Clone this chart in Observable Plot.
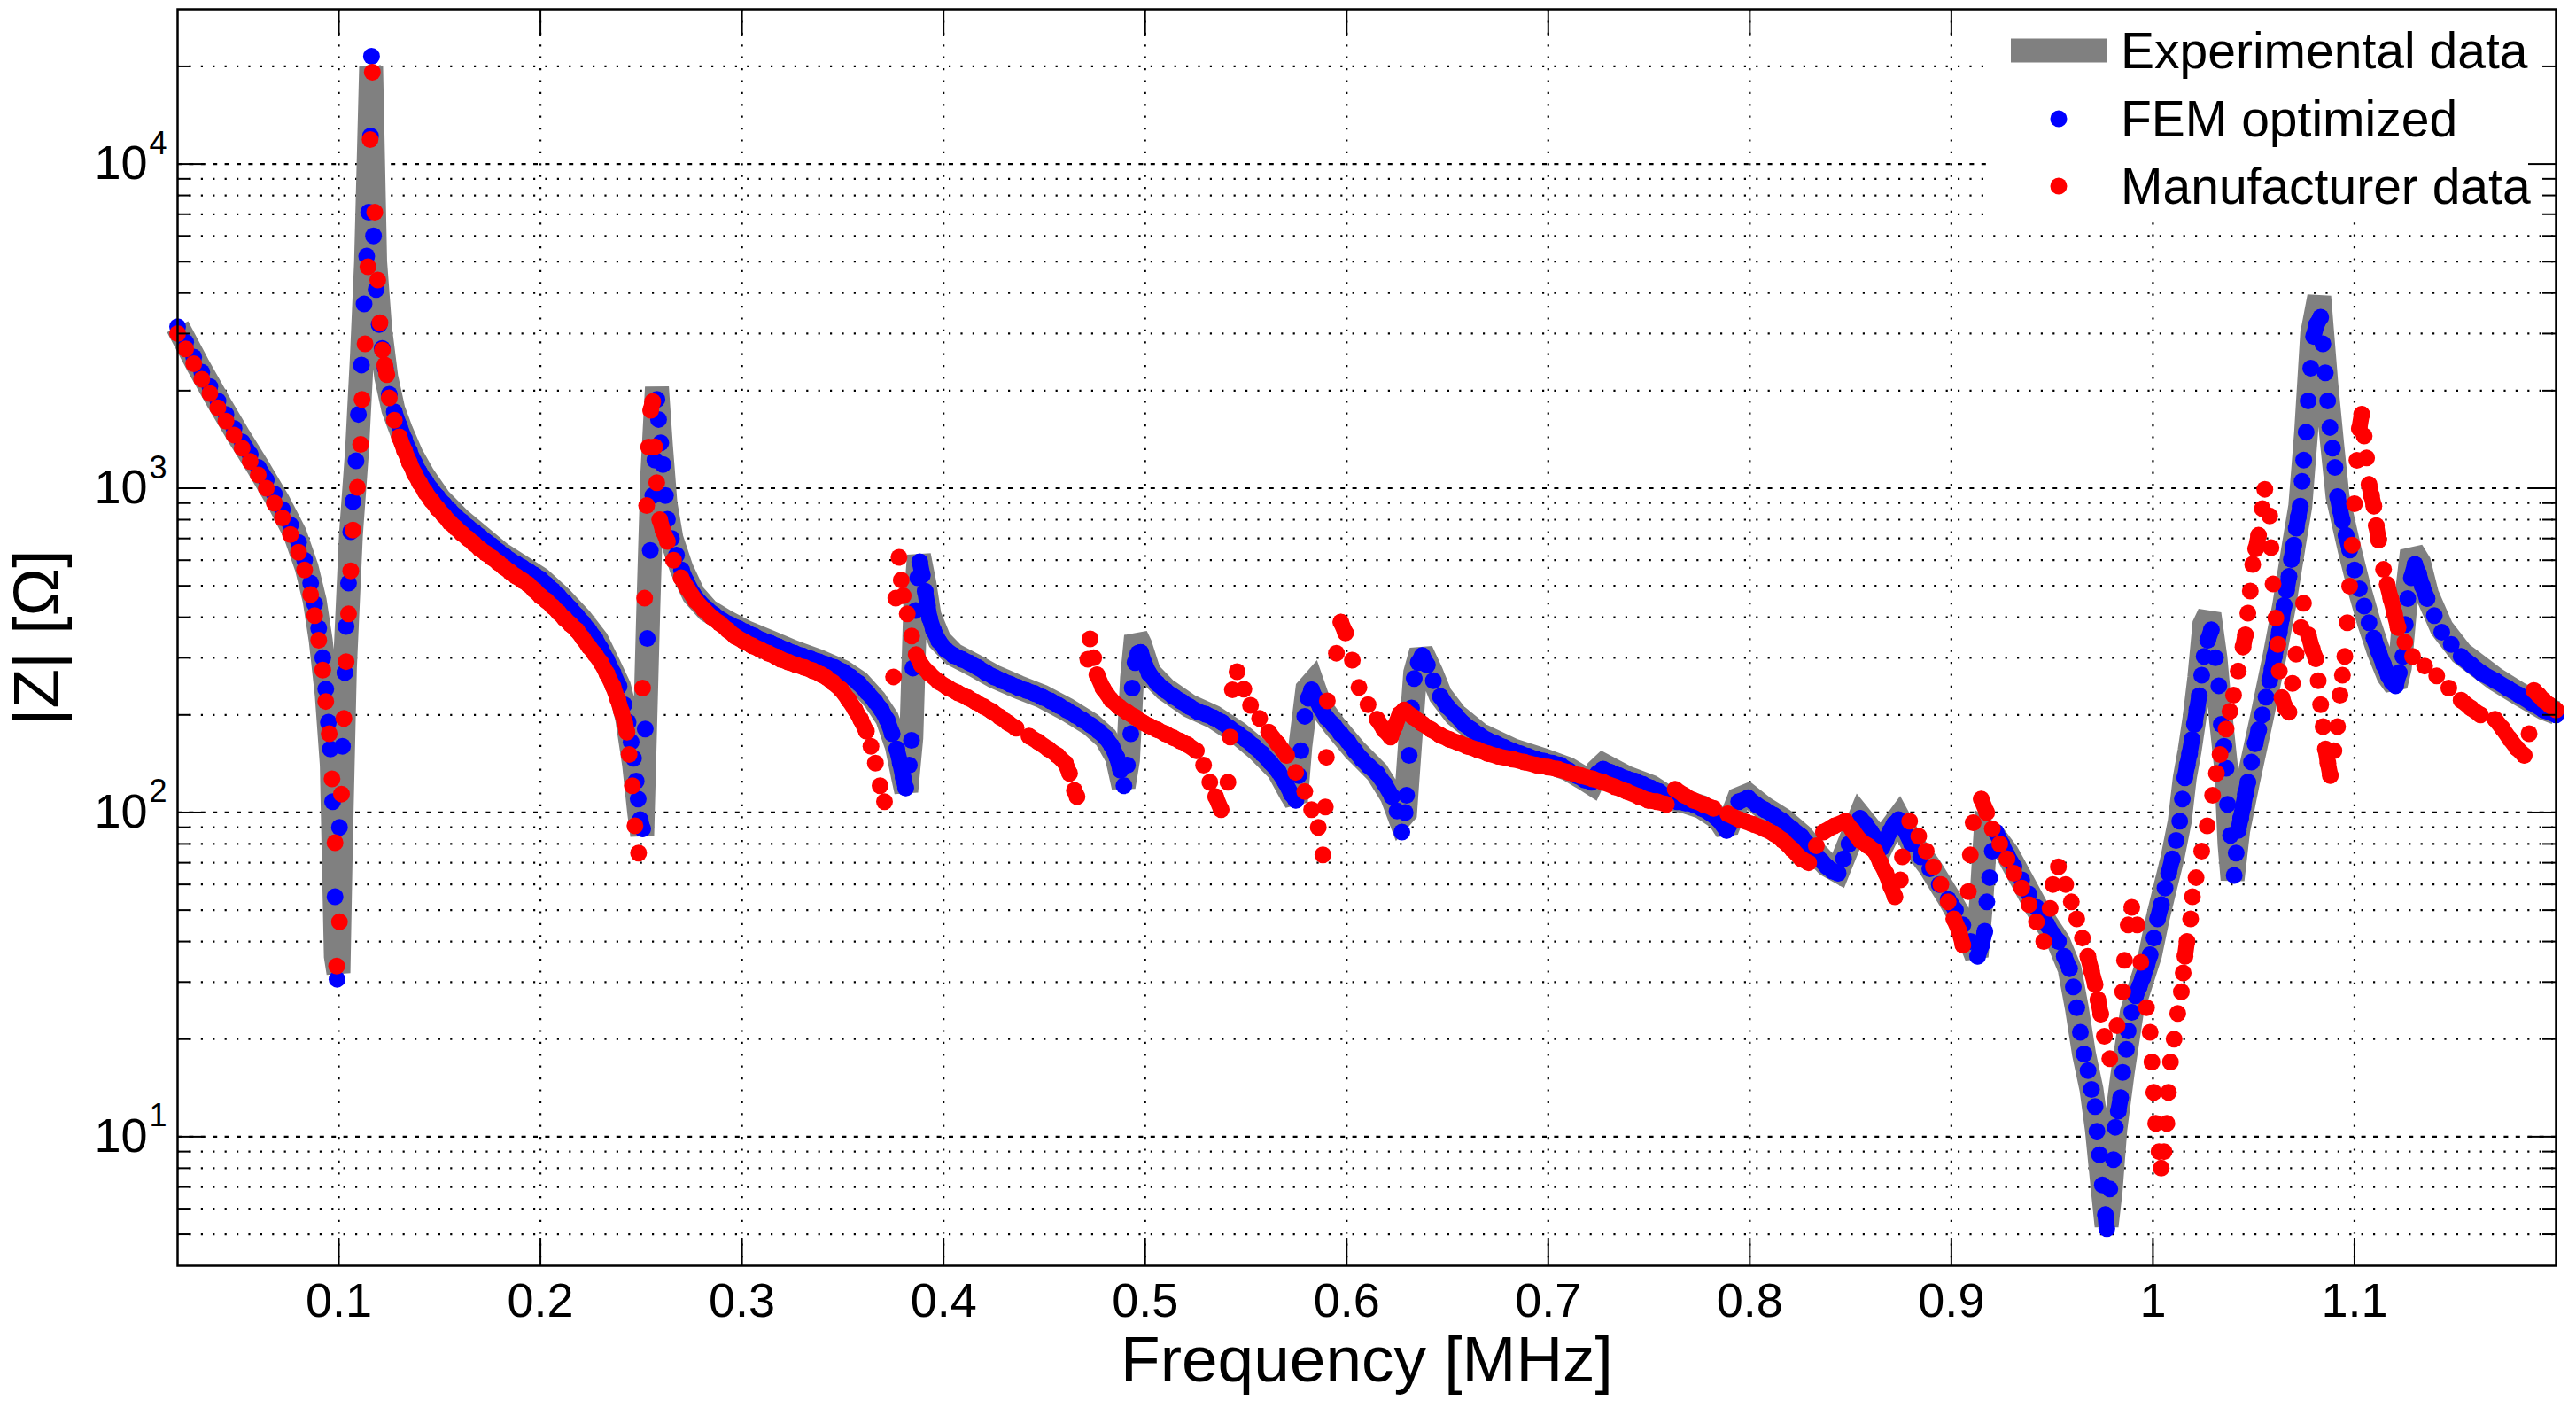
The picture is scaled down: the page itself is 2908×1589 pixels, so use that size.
<!DOCTYPE html>
<html>
<head>
<meta charset="utf-8">
<script src="https://cdn.jsdelivr.net/npm/d3@7"></script>
<script src="https://cdn.jsdelivr.net/npm/@observablehq/plot@0.6"></script>
<style>
  html, body { margin: 0; padding: 0; background: #ffffff; overflow: hidden; }
  #chart svg { display: block; }
</style>
</head>
<body>
<div id="chart"></div>
<script>
// ---------------- DATA ----------------
const seriesNames = ["Experimental data", "FEM optimized", "Manufacturer data"];
const seriesColors = ["#808080", "#0000ff", "#ff0000"];

const xTicks = [0.1, 0.2, 0.3, 0.4, 0.5, 0.6, 0.7, 0.8, 0.9, 1.0, 1.1];
const xTickLabels = ["0.1", "0.2", "0.3", "0.4", "0.5", "0.6", "0.7", "0.8", "0.9", "1", "1.1"];
const yDecades = [10, 100, 1000, 10000];
const yDecadeExp = ["1", "2", "3", "4"];
const yMinor = [5, 6, 7, 8, 9, 20, 30, 40, 50, 60, 70, 80, 90, 200, 300, 400, 500, 600, 700, 800, 900,
  2000, 3000, 4000, 5000, 6000, 7000, 8000, 9000, 20000];

// Experimental data: [frequency MHz, |Z| ohm]
const experimental = [[0.020,3150],[0.030,2400],[0.040,1860],[0.050,1460],[0.060,1160],[0.070,910],[0.078,730],[0.084,570],[0.088,450],[0.091,340],[0.094,230],[0.0965,140],[0.0985,36],[0.0998,32],[0.1010,80],[0.1030,280],[0.1060,720],[0.1090,1300],[0.1115,2600],[0.1135,5000],[0.1160,20000],[0.1180,5000],[0.1205,3100],[0.1235,2200],[0.1270,1750],[0.1310,1500],[0.136,1270],[0.142,1090],[0.150,925],[0.160,800],[0.170,710],[0.180,630],[0.190,575],[0.200,525],[0.210,460],[0.220,395],[0.228,340],[0.234,285],[0.239,245],[0.243,195],[0.2465,140],[0.249,100],[0.2505,85],[0.2535,420],[0.2555,1100],[0.2578,2050],[0.2598,1350],[0.262,900],[0.265,700],[0.270,565],[0.276,470],[0.283,420],[0.292,388],[0.302,360],[0.314,335],[0.326,312],[0.338,293],[0.350,272],[0.358,252],[0.366,222],[0.372,195],[0.3768,160],[0.3800,128],[0.3815,116],[0.3840,170],[0.3860,440],[0.3878,620],[0.3905,510],[0.393,405],[0.398,340],[0.405,307],[0.415,285],[0.425,263],[0.437,244],[0.449,228],[0.461,208],[0.473,187],[0.4805,170],[0.486,148],[0.4893,120],[0.4915,145],[0.4935,260],[0.4955,350],[0.4975,330],[0.502,270],[0.510,240],[0.522,213],[0.534,197],[0.546,176],[0.556,156],[0.566,135],[0.5725,114],[0.5748,108],[0.5770,160],[0.5805,240],[0.5830,250],[0.5870,212],[0.594,185],[0.604,156],[0.6151,133],[0.6225,112],[0.6265,96],[0.6290,100],[0.6315,165],[0.6340,270],[0.6370,315],[0.6420,270],[0.6465,230],[0.654,200],[0.666,174],[0.682,156],[0.698,145],[0.710,136],[0.718,127],[0.7215,123],[0.7245,135],[0.7272,140],[0.739,128],[0.751,120],[0.7595,111],[0.768,108],[0.776,104],[0.7845,96],[0.7885,88],[0.7945,110],[0.7991,113],[0.8073,103],[0.8164,95],[0.8255,85],[0.8328,75],[0.8383,69],[0.8438,66],[0.8492,80],[0.8547,97],[0.8602,88],[0.8656,79],[0.8693,88],[0.8738,96],[0.8802,81],[0.8893,68],[0.8984,55],[0.9057,46],[0.9125,36],[0.9150,55],[0.9170,88],[0.9210,85],[0.9276,75],[0.9349,62],[0.9422,51],[0.9476,45],[0.9531,40],[0.9586,33],[0.9622,25],[0.9658,18],[0.9695,14],[0.9722,10.5],[0.9749,7.1],[0.9770,5.3],[0.9790,6.8],[0.9813,10.5],[0.985,15.8],[0.9895,24.2],[0.995,31],[0.9986,36.4],[1.0023,47],[1.006,58.5],[1.0096,72],[1.0133,94],[1.0158,128],[1.0182,155],[1.0206,195],[1.0230,260],[1.0255,380],[1.0280,410],[1.0310,300],[1.0339,190],[1.0363,137],[1.0380,80],[1.0395,62],[1.0423,88],[1.0471,124],[1.0543,200],[1.0603,303],[1.0651,435],[1.0699,668],[1.0731,880],[1.0760,1490],[1.0790,3000],[1.0825,3900],[1.0860,2100],[1.0891,1330],[1.0916,942],[1.0976,645],[1.1024,490],[1.1072,385],[1.112,313],[1.1168,264],[1.1204,246],[1.1225,280],[1.1250,420],[1.1285,640],[1.1320,590],[1.1360,470],[1.1433,370],[1.1529,310],[1.1698,258],[1.1818,232],[1.1938,210],[1.2,203]];

// FEM optimized: [frequency MHz, |Z| ohm]
const femOptimized = [[0.020,3150],[0.024,2820],[0.028,2540],[0.032,2280],[0.036,2060],[0.040,1860],[0.044,1690],[0.048,1530],[0.052,1390],[0.056,1270],[0.060,1160],[0.064,1060],[0.068,960],[0.072,860],[0.076,770],[0.080,680],[0.083,600],[0.086,510],[0.088,440],[0.090,370],[0.092,300],[0.0935,240],[0.0948,190],[0.0958,157],[0.0969,108],[0.0981,55],[0.0991,30.6],[0.1003,90],[0.1018,160],[0.103,270],[0.1036,375],[0.1048,510],[0.1059,735],[0.107,910],[0.1085,1216],[0.1097,1690],[0.1112,2400],[0.1125,3700],[0.1138,5200],[0.1148,7100],[0.1157,12200],[0.1162,21500],[0.1172,6000],[0.1185,4100],[0.1200,3200],[0.1215,2700],[0.123,2350],[0.125,1950],[0.1275,1720],[0.130,1560],[0.1325,1420],[0.135,1300],[0.1375,1200],[0.140,1120],[0.143,1050],[0.146,990],[0.149,940],[0.152,895],[0.155,855],[0.158,820],[0.161,790],[0.164,760],[0.167,735],[0.170,710],[0.173,685],[0.176,665],[0.179,640],[0.182,620],[0.185,600],[0.188,585],[0.191,570],[0.194,555],[0.197,540],[0.200,525],[0.203,505],[0.206,485],[0.209,465],[0.212,445],[0.215,425],[0.218,405],[0.221,385],[0.224,365],[0.227,345],[0.230,320],[0.233,295],[0.236,270],[0.239,245],[0.2415,215],[0.2435,190],[0.2450,165],[0.2462,147],[0.2475,125],[0.2485,110],[0.2495,95],[0.2507,89],[0.2520,181],[0.2530,344],[0.2545,643],[0.2558,950],[0.2568,1222],[0.2578,1880],[0.2586,1630],[0.2597,1380],[0.2608,1183],[0.2620,950],[0.263,803],[0.265,700],[0.2675,622],[0.270,560],[0.2725,515],[0.2755,475],[0.279,445],[0.2825,425],[0.286,408],[0.290,392],[0.294,380],[0.298,370],[0.302,360],[0.306,350],[0.310,340],[0.314,333],[0.318,325],[0.322,317],[0.326,310],[0.330,304],[0.334,298],[0.338,292],[0.342,286],[0.346,280],[0.350,272],[0.354,262],[0.358,250],[0.362,235],[0.366,220],[0.369,208],[0.372,193],[0.3745,175],[0.3768,157],[0.3785,142],[0.3800,128],[0.3812,119],[0.3830,140],[0.3841,167],[0.3848,279],[0.3862,420],[0.3872,530],[0.3882,593],[0.3895,540],[0.3909,481],[0.3920,435],[0.3931,397],[0.3950,365],[0.3976,338],[0.401,318],[0.405,305],[0.409,297],[0.413,289],[0.417,280],[0.421,270],[0.425,262],[0.429,255],[0.433,249],[0.437,243],[0.441,238],[0.445,233],[0.449,227],[0.453,221],[0.457,214],[0.461,207],[0.465,200],[0.469,193],[0.473,186],[0.477,178],[0.4805,170],[0.4835,160],[0.4860,148],[0.4878,135],[0.4895,121],[0.4912,140],[0.4929,175],[0.4936,242],[0.4950,290],[0.4965,310],[0.4978,312],[0.4997,288],[0.502,268],[0.506,250],[0.510,238],[0.514,228],[0.518,220],[0.522,212],[0.526,205],[0.530,201],[0.534,196],[0.538,190],[0.542,182],[0.546,175],[0.550,168],[0.554,160],[0.558,152],[0.562,143],[0.566,134],[0.5695,124],[0.5725,114],[0.5748,109],[0.5762,130],[0.5773,155],[0.5792,198],[0.5810,225],[0.5826,239],[0.5845,225],[0.5870,210],[0.590,196],[0.5935,186],[0.597,175],[0.6005,166],[0.604,155],[0.6075,146],[0.611,139],[0.6151,132],[0.619,122],[0.6225,112],[0.6250,101],[0.6274,87],[0.6290,100],[0.6297,113],[0.6310,150],[0.6322,210],[0.6335,259],[0.6355,290],[0.6375,305],[0.640,285],[0.643,255],[0.6465,228],[0.650,212],[0.654,200],[0.658,188],[0.662,180],[0.666,173],[0.670,167],[0.674,163],[0.678,159],[0.682,155],[0.686,152],[0.690,149],[0.694,146],[0.698,144],[0.702,142],[0.706,140],[0.710,135],[0.714,130],[0.718,126],[0.7215,124],[0.7245,132],[0.7272,136],[0.731,133],[0.735,130],[0.739,127],[0.743,125],[0.747,122],[0.751,119],[0.755,116],[0.7595,111],[0.764,108],[0.768,107],[0.772,106],[0.776,103],[0.780,100],[0.7845,95],[0.7885,88],[0.7915,95],[0.7945,108],[0.7991,111],[0.803,106],[0.8073,102],[0.812,98],[0.8164,94],[0.821,89],[0.8255,84.5],[0.8295,79],[0.8328,74],[0.8355,71],[0.8383,68],[0.841,66],[0.8438,65],[0.8465,72],[0.8492,80],[0.852,89],[0.8547,96],[0.8575,92],[0.8602,87],[0.863,82],[0.8656,78],[0.8675,82],[0.8693,87],[0.8715,92],[0.8738,95],[0.877,88],[0.8802,80],[0.8848,73],[0.8893,67],[0.894,60],[0.8984,54],[0.902,50],[0.9057,45],[0.9095,40],[0.913,36],[0.915,39],[0.9166,43],[0.9176,53],[0.9190,63],[0.9203,76],[0.9221,87],[0.925,80],[0.9276,74],[0.931,68],[0.9349,62],[0.9385,56],[0.9422,51],[0.9450,48],[0.9476,45],[0.9505,42],[0.9531,40],[0.9560,36],[0.9586,33],[0.9605,29],[0.9622,25],[0.9640,21],[0.9658,18],[0.9678,16],[0.9695,14],[0.9713,12.4],[0.9722,10.4],[0.9735,8.8],[0.9749,7.1],[0.9764,5.75],[0.9771,5.2],[0.9786,6.9],[0.9804,8.5],[0.9813,10.7],[0.9828,12],[0.984,13.2],[0.985,15.8],[0.9868,18.6],[0.9877,21.2],[0.9895,24.2],[0.9914,27.2],[0.9932,29],[0.995,31],[0.9968,33.5],[0.9986,36.4],[1.0005,41],[1.0023,47],[1.0042,52],[1.006,58.5],[1.0078,65],[1.0096,72],[1.0115,82],[1.0133,94],[1.0146,110],[1.0158,128],[1.0170,140],[1.0182,152],[1.0194,168],[1.0206,187],[1.0218,207],[1.023,229],[1.0242,265],[1.0254,303],[1.0272,340],[1.029,366],[1.0310,300],[1.0327,246],[1.0339,187],[1.0352,160],[1.0363,137],[1.0370,106],[1.0385,85],[1.0403,64],[1.0413,75],[1.0423,88],[1.0435,96],[1.0447,104],[1.0459,114],[1.0471,124],[1.0489,143],[1.0507,163],[1.0525,180],[1.0543,200],[1.0561,227],[1.0579,255],[1.0591,278],[1.0603,303],[1.0615,330],[1.0627,360],[1.0639,397],[1.0651,435],[1.0663,485],[1.0675,535],[1.0687,603],[1.0699,668],[1.0711,753],[1.0721,815],[1.0731,880],[1.0740,1050],[1.0748,1222],[1.0760,1490],[1.0770,1860],[1.0783,2345],[1.0797,2940],[1.0812,3200],[1.0832,3370],[1.0843,2790],[1.0855,2270],[1.0867,1860],[1.0878,1540],[1.0891,1330],[1.0903,1160],[1.0916,942],[1.0928,860],[1.094,794],[1.0958,715],[1.0976,645],[1.1,560],[1.1024,490],[1.1048,433],[1.1072,385],[1.1096,345],[1.112,313],[1.1144,286],[1.1168,264],[1.1186,252],[1.1204,246],[1.1222,270],[1.124,303],[1.1252,380],[1.1264,457],[1.1282,530],[1.13,582],[1.1318,545],[1.1336,500],[1.136,457],[1.1396,405],[1.1433,360],[1.148,330],[1.1529,303],[1.158,285],[1.1635,268],[1.1698,255],[1.1758,242],[1.1818,230],[1.1878,218],[1.1938,207],[1.2,200]];

// Manufacturer data: [frequency MHz, |Z| ohm]
const manufacturer = [[0.020,3000],[0.024,2690],[0.028,2420],[0.032,2170],[0.036,1960],[0.040,1770],[0.044,1610],[0.048,1460],[0.052,1330],[0.056,1210],[0.060,1100],[0.064,1000],[0.068,900],[0.072,810],[0.076,720],[0.080,635],[0.083,560],[0.086,470],[0.088,405],[0.090,340],[0.092,275],[0.0935,220],[0.0952,175],[0.0966,127],[0.0981,80.7],[0.0989,33.6],[0.1003,46],[0.1013,114],[0.1025,195],[0.1036,292],[0.1048,410],[0.1059,556],[0.107,743],[0.1092,1007],[0.1108,1365],[0.1115,1880],[0.113,2790],[0.1144,4820],[0.1155,11900],[0.1166,19200],[0.1178,7100],[0.1193,4390],[0.1204,3240],[0.1216,2670],[0.1228,2400],[0.1238,2240],[0.125,1900],[0.1275,1620],[0.130,1440],[0.1325,1310],[0.135,1200],[0.1375,1110],[0.140,1040],[0.143,970],[0.146,915],[0.149,865],[0.152,825],[0.155,785],[0.158,755],[0.161,725],[0.164,700],[0.167,675],[0.170,650],[0.173,630],[0.176,610],[0.179,590],[0.182,570],[0.185,552],[0.188,535],[0.191,520],[0.194,505],[0.197,485],[0.200,465],[0.203,450],[0.206,432],[0.209,414],[0.212,396],[0.215,380],[0.218,365],[0.221,345],[0.224,325],[0.227,308],[0.230,290],[0.233,268],[0.236,245],[0.2384,223],[0.2402,205],[0.2418,190],[0.2429,177],[0.2440,151],[0.2456,121],[0.2469,91],[0.2487,75],[0.2507,242],[0.2517,458],[0.2527,885],[0.2537,1340],[0.2547,1740],[0.2557,1850],[0.2567,1343],[0.2577,1040],[0.2592,800],[0.2608,740],[0.263,686],[0.266,600],[0.2698,530],[0.273,490],[0.277,450],[0.281,423],[0.285,400],[0.289,383],[0.293,365],[0.2967,349],[0.301,337],[0.305,327],[0.309,318],[0.313,310],[0.317,302],[0.3191,297],[0.323,291],[0.327,285],[0.331,280],[0.335,274],[0.339,267],[0.3415,262],[0.345,252],[0.349,240],[0.3528,223],[0.356,208],[0.359,193],[0.3617,178],[0.364,160],[0.3662,142],[0.3685,121],[0.3707,108],[0.3752,262],[0.3763,458],[0.3779,612],[0.3790,521],[0.3800,466],[0.382,410],[0.3842,350],[0.3864,307],[0.389,285],[0.393,268],[0.3976,253],[0.402,243],[0.407,234],[0.412,226],[0.416,219],[0.42,212],[0.424,205],[0.428,197],[0.432,189],[0.436,182],[0.4424,172],[0.447,165],[0.452,157],[0.4565,150],[0.4604,142],[0.4625,132],[0.4649,117],[0.4662,112],[0.4716,297],[0.4727,343],[0.4745,300],[0.4761,266],[0.479,242],[0.483,223],[0.487,212],[0.491,204],[0.495,197],[0.4985,190],[0.502,185],[0.506,180],[0.510,175],[0.514,170],[0.5175,166],[0.5209,162],[0.5254,155],[0.5290,140],[0.5321,124],[0.5350,112],[0.5377,102],[0.5411,124],[0.5422,171],[0.5433,239],[0.5456,272],[0.5490,240],[0.5523,214],[0.5568,195],[0.5613,177],[0.5658,163],[0.5702,150],[0.5747,133],[0.5792,116],[0.5826,102],[0.5859,90],[0.5882,74],[0.5894,104],[0.5899,148],[0.5904,221],[0.5949,310],[0.5971,387],[0.5994,358],[0.6028,295],[0.6061,243],[0.6106,215],[0.6151,194],[0.6185,180],[0.6218,171],[0.6240,185],[0.6263,201],[0.6285,207],[0.633,197],[0.6375,188],[0.642,180],[0.6465,173],[0.651,168],[0.6555,164],[0.6599,160],[0.665,156],[0.670,152],[0.675,149],[0.6823,146],[0.688,143],[0.694,140],[0.700,138],[0.7048,136],[0.710,133],[0.716,130],[0.722,127],[0.7272,124],[0.733,120],[0.739,116],[0.745,112],[0.7496,109],[0.7540,108],[0.7586,106],[0.763,118],[0.7675,113],[0.772,109],[0.777,106],[0.782,103],[0.7891,99],[0.795,95],[0.8015,92],[0.8073,89],[0.812,86],[0.8164,82],[0.821,77],[0.8255,72],[0.8292,70],[0.833,79],[0.8365,87],[0.842,91],[0.8474,94],[0.851,88],[0.8547,82],[0.8585,79],[0.862,76],[0.8648,70],[0.8675,65],[0.870,59],[0.872,55],[0.8747,62],[0.8757,73],[0.8793,94],[0.8838,84.5],[0.8875,76],[0.8911,68],[0.8948,60],[0.8984,53],[0.9012,47],[0.9039,43],[0.9057,39],[0.9084,57],[0.9094,74],[0.9108,93],[0.9148,110],[0.9175,100],[0.9203,89],[0.924,80],[0.9276,72],[0.931,65],[0.9349,58.5],[0.9385,52],[0.9422,46],[0.9458,40],[0.949,50.6],[0.9504,60],[0.9531,68],[0.9567,60],[0.9595,53],[0.9622,47],[0.965,41],[0.9677,36],[0.9695,32.5],[0.9713,29.5],[0.9727,26.5],[0.9741,23.9],[0.9759,20.4],[0.9786,17.4],[0.9822,22],[0.9850,28],[0.9859,35],[0.9877,45],[0.9895,51],[0.9922,45],[0.994,34.5],[0.9968,25],[0.9986,21],[0.9995,17],[1.0004,13.7],[1.0014,11],[1.0030,9],[1.0041,8.0],[1.0055,9],[1.0069,11],[1.0077,13.7],[1.0087,17],[1.0105,20],[1.0123,24],[1.0141,28],[1.015,32],[1.0159,36],[1.0169,40],[1.0187,47],[1.0196,55],[1.0214,63],[1.0242,76],[1.0269,91],[1.0296,113],[1.0315,132],[1.0333,151],[1.0363,181],[1.0382,205],[1.04,230],[1.0423,273],[1.0447,324],[1.0459,353],[1.0471,412],[1.0483,482],[1.0495,582],[1.0510,650],[1.0524,716],[1.0543,865],[1.0555,993],[1.0579,822],[1.0586,656],[1.0596,507],[1.061,398],[1.062,330],[1.0627,273],[1.064,226],[1.0658,210],[1.0675,204],[1.0692,250],[1.071,308],[1.0735,372],[1.0747,442],[1.0771,353],[1.0790,320],[1.0808,298],[1.082,255],[1.0832,215],[1.0844,184],[1.0856,157],[1.0868,142],[1.088,130],[1.0898,155],[1.0916,184],[1.0928,230],[1.094,265],[1.0952,303],[1.0964,385],[1.0976,499],[1.0988,668],[1.1,896],[1.1012,1219],[1.1024,1527],[1.1036,1692],[1.1048,1450],[1.106,1240],[1.1072,1028],[1.1084,950],[1.1096,880],[1.1108,767],[1.112,692],[1.1144,562],[1.1162,505],[1.118,457],[1.1198,412],[1.1216,372],[1.125,335],[1.1288,303],[1.1348,283],[1.1408,264],[1.1468,242],[1.1529,222],[1.1577,210],[1.1625,200],[1.1697,194],[1.1733,182],[1.1769,169],[1.1805,158],[1.1842,150],[1.1866,175],[1.189,238],[1.1914,230],[1.1938,222],[1.197,214],[1.2,207]];

// ---------------- CHART ----------------
const W = 2908, H = 1589;
const mL = 200, mR = 23, mT = 10, mB = 161;
const frameW = W - mL - mR, frameH = H - mT - mB;
const FONT = "'Liberation Sans', Arial, Helvetica, sans-serif";
const majorTick = 31, minorTick = 15;
const markerR = 9.5;
const xDomain = [0.02, 1.2], yDomain = [4, 30000];

// Same scales as the plot, used only to decide which neighbouring samples
// sit so close on screen that their markers merge into a continuous band.
const sx = Plot.scale({x: {domain: xDomain, range: [mL, W - mR]}});
const sy = Plot.scale({y: {type: "log", domain: yDomain, range: [H - mB, mT]}});
function closePairs(series, maxGap) {
  const out = [];
  for (let i = 1; i < series.length; i++) {
    const a = series[i - 1], b = series[i];
    const dx = sx.apply(b[0]) - sx.apply(a[0]), dy = sy.apply(b[1]) - sy.apply(a[1]);
    if (Math.hypot(dx, dy) < maxGap) out.push([a, b]);
  }
  return out;
}
const femPairs = closePairs(femOptimized, 17);
const manPairs = closePairs(manufacturer, 17);

const gridStyle = {stroke: "#000", strokeWidth: 2.2, strokeOpacity: 1};
const tickStyle = {stroke: "#000", strokeWidth: 2};
const linkOpts = (color) => ({x1: d => d[0][0], y1: d => d[0][1], x2: d => d[1][0], y2: d => d[1][1],
  stroke: color, strokeWidth: 2 * markerR - 1, strokeLinecap: "round"});

const svg = Plot.plot({
  width: W, height: H,
  marginLeft: mL, marginRight: mR, marginTop: mT, marginBottom: mB,
  style: {fontFamily: FONT, background: "#ffffff", color: "#000"},
  x: {domain: xDomain, axis: null},
  y: {type: "log", domain: yDomain, axis: null},
  marks: [
    // grid
    Plot.ruleX(xTicks, {x: d => d, ...gridStyle, strokeDasharray: "2.2,11.2"}),
    Plot.ruleY(yMinor, {y: d => d, ...gridStyle, strokeDasharray: "2.2,11.2"}),
    Plot.ruleY(yDecades, {y: d => d, ...gridStyle, strokeDasharray: "5,8.4"}),
    // data
    Plot.line(experimental, {x: d => d[0], y: d => d[1], stroke: seriesColors[0], strokeWidth: 27,
      strokeLinejoin: "miter", strokeLinecap: "butt", strokeMiterlimit: 2}),
    Plot.link(femPairs, linkOpts(seriesColors[1])),
    Plot.dot(femOptimized, {x: d => d[0], y: d => d[1], r: markerR, fill: seriesColors[1], stroke: "none"}),
    Plot.link(manPairs, linkOpts(seriesColors[2])),
    Plot.dot(manufacturer, {x: d => d[0], y: d => d[1], r: markerR, fill: seriesColors[2], stroke: "none"}),
    // top ticks (the legend box is laid over the ones behind it)
    Plot.tickX(xTicks, {x: d => d, ...tickStyle, insetBottom: frameH - majorTick}),
    // bottom ticks
    Plot.tickX(xTicks, {x: d => d, ...tickStyle, insetTop: frameH - majorTick}),
    // left ticks
    Plot.tickY(yDecades, {y: d => d, ...tickStyle, insetRight: frameW - majorTick}),
    Plot.tickY(yMinor, {y: d => d, ...tickStyle, insetRight: frameW - minorTick}),
    // right ticks
    Plot.tickY(yDecades, {y: d => d, ...tickStyle, insetLeft: frameW - majorTick}),
    Plot.tickY(yMinor, {y: d => d, ...tickStyle, insetLeft: frameW - minorTick}),
    Plot.frame({stroke: "#000", strokeWidth: 2.5}),
    // tick labels
    Plot.text(xTicks, {x: d => d, text: (d, i) => xTickLabels[i], frameAnchor: "bottom", dy: 40,
      fontSize: 54, fill: "#000", textAnchor: "middle", lineAnchor: "middle"}),
    Plot.text(yDecades, {y: d => d, text: () => "10", frameAnchor: "left", dx: -34,
      fontSize: 54, fill: "#000", textAnchor: "end", lineAnchor: "middle"}),
    Plot.text(yDecades, {y: d => d, text: (d, i) => yDecadeExp[i], frameAnchor: "left", dx: -32, dy: -23,
      fontSize: 36, fill: "#000", textAnchor: "start", lineAnchor: "middle"}),
    // axis labels
    Plot.text(["Frequency [MHz]"], {frameAnchor: "bottom", dy: 107, fontSize: 73, fill: "#000",
      textAnchor: "middle", lineAnchor: "middle"}),
    Plot.text(["|Z| [\u03A9]"], {frameAnchor: "left", dx: -158, rotate: -90, fontSize: 73, fill: "#000",
      textAnchor: "middle", lineAnchor: "middle"})
  ]
});

// ---------------- LEGEND (inside the axes, top right) ----------------
const ns = "http://www.w3.org/2000/svg";
const lgX0 = 2250, lgX1 = W - mR, lgY0 = mT, lgY1 = 250;
const bg = document.createElementNS(ns, "rect");
bg.setAttribute("x", lgX0); bg.setAttribute("y", lgY0);
bg.setAttribute("width", lgX1 - lgX0); bg.setAttribute("height", lgY1 - lgY0);
bg.setAttribute("fill", "#ffffff");
const tickGroups = svg.querySelectorAll('g[aria-label="tick"]');
if (tickGroups.length > 1) svg.insertBefore(bg, tickGroups[1]);
else {
  const frameG = svg.querySelector('[aria-label="frame"]');
  svg.insertBefore(bg, frameG || null);
}

const lg = d3.select(svg).append("g")
  .attr("font-family", FONT).attr("text-anchor", "start");
const rowY = [57, 134, 210];
const swX0 = 2270, swX1 = 2379, swCx = 2324, textX = 2394;
lg.append("line").attr("x1", swX0).attr("x2", swX1).attr("y1", rowY[0]).attr("y2", rowY[0])
  .attr("stroke", seriesColors[0]).attr("stroke-width", 27);
[1, 2].forEach(k => {
  lg.append("circle").attr("cx", swCx).attr("cy", rowY[k]).attr("r", markerR).attr("fill", seriesColors[k]);
});
seriesNames.forEach((name, k) => {
  lg.append("text").attr("x", textX).attr("y", rowY[k]).attr("dy", "0.35em")
    .attr("text-anchor", "start")
    .attr("font-size", 57).attr("fill", "#000").text(name);
});

document.getElementById("chart").appendChild(svg);
</script>
</body>
</html>
